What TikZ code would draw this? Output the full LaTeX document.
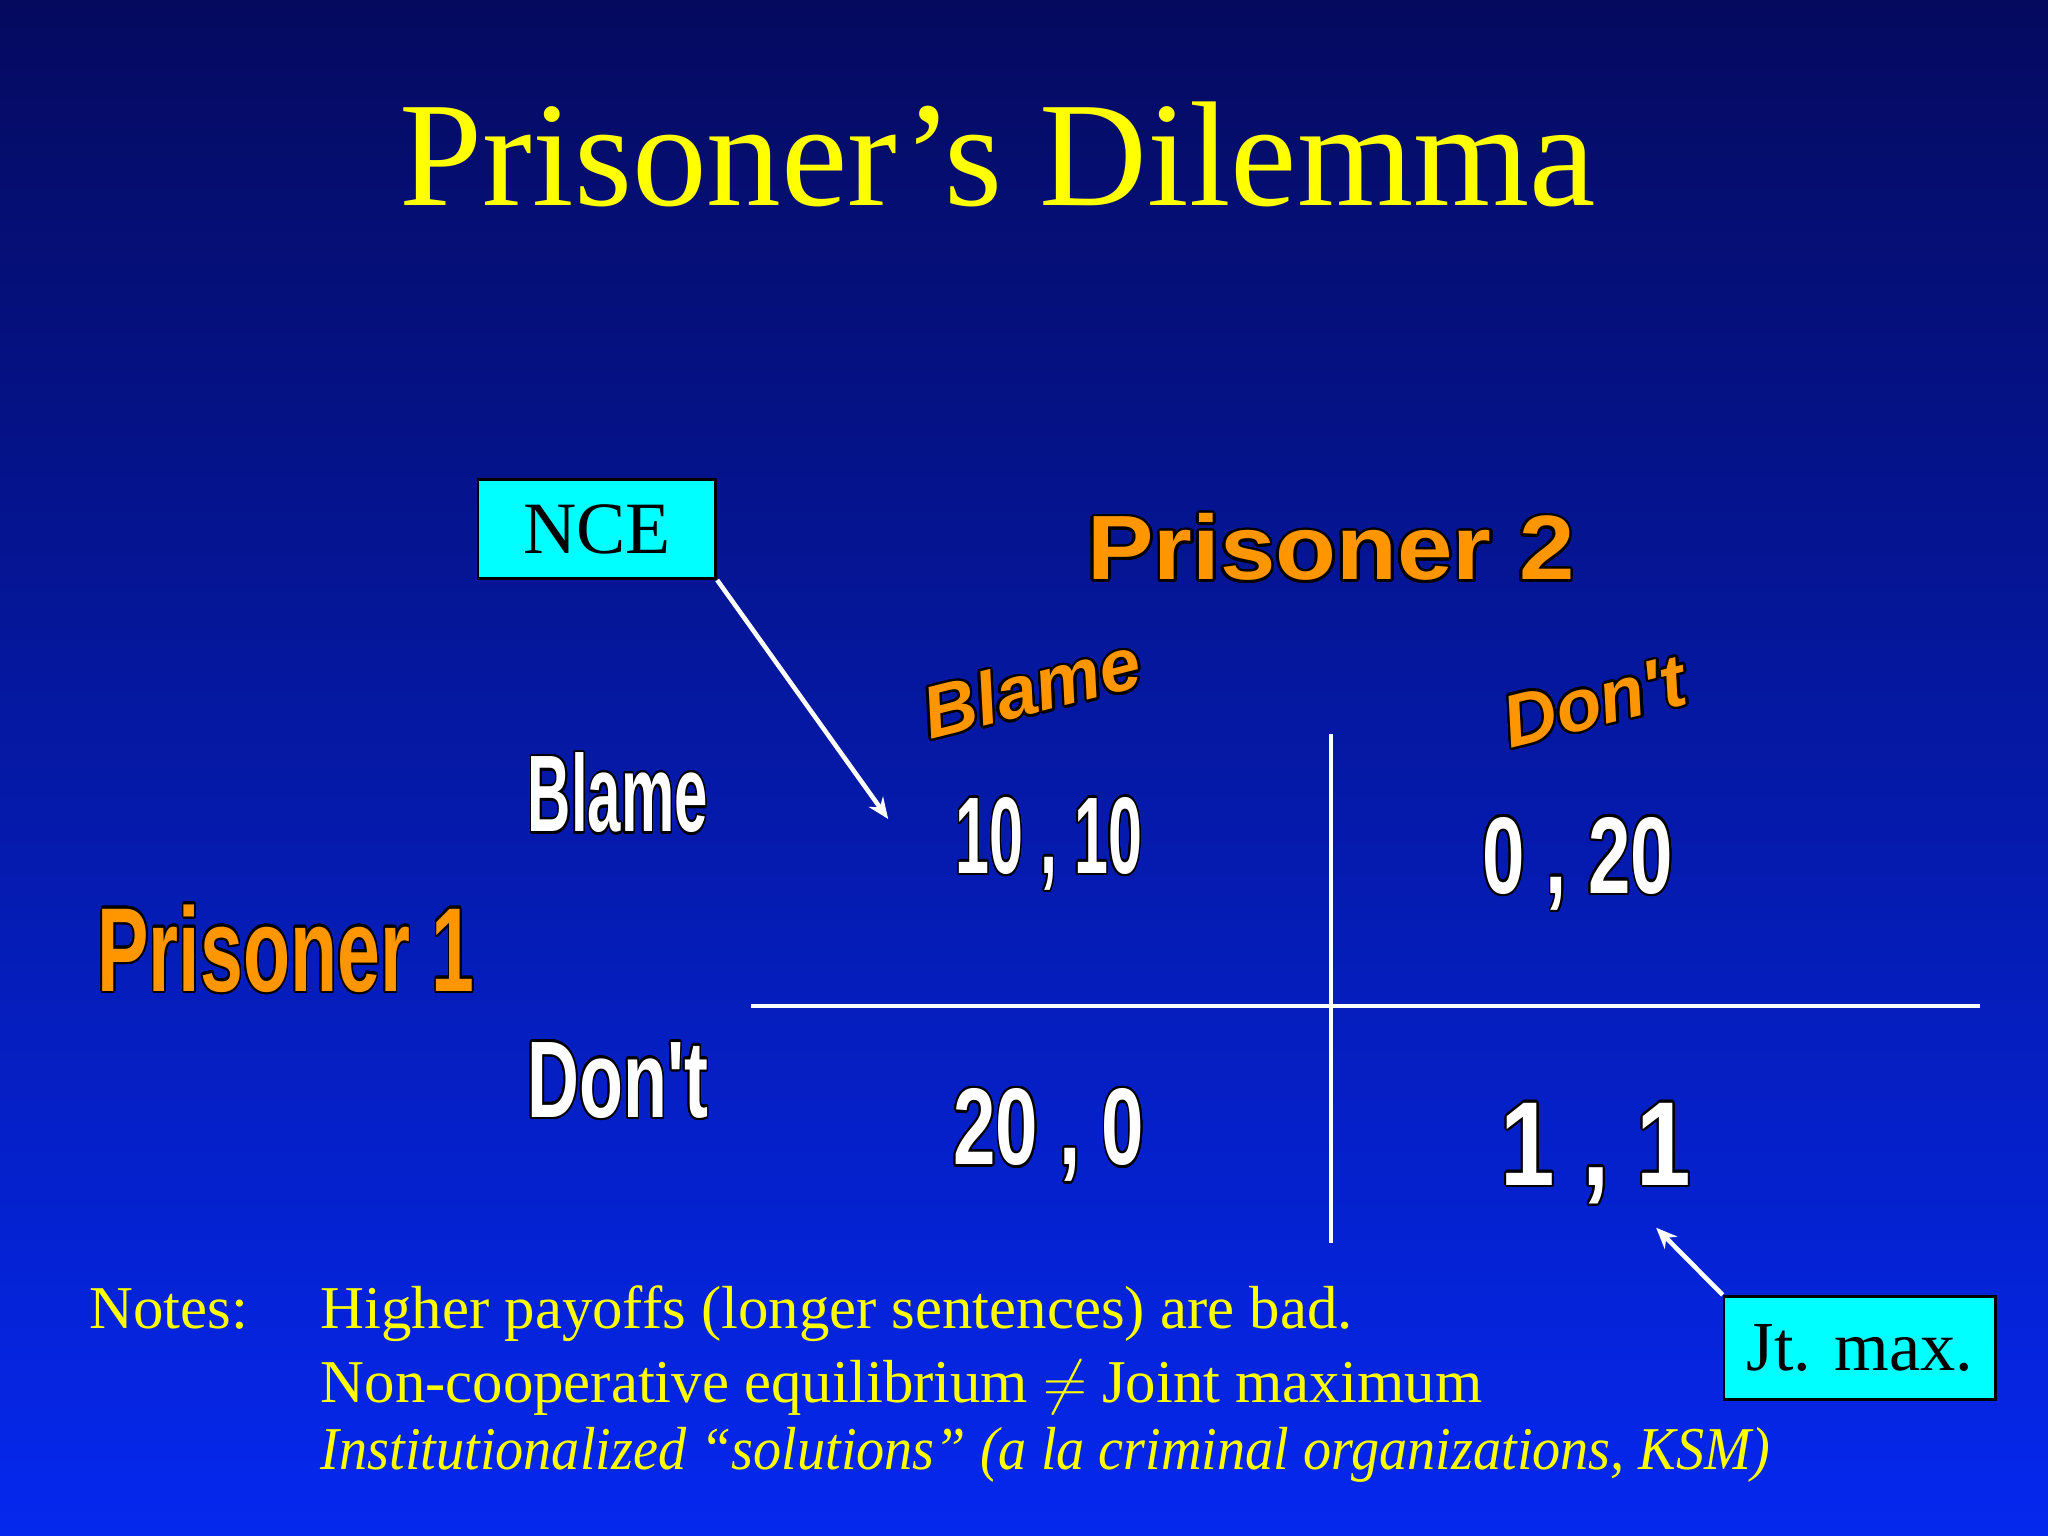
\documentclass[tikz,border=0pt]{standalone}
\usepackage{fontspec}
\usepackage{contour}
\setmainfont{Liberation Serif}
\newfontfamily\arialf{Liberation Sans}
\usetikzlibrary{arrows.meta}
\definecolor{ttl}{RGB}{255,255,0}
\definecolor{org}{RGB}{255,150,0}
\definecolor{cyanbox}{RGB}{0,255,255}
\contourlength{0.7pt}
\contournumber{24}
\newcommand{\fs}[1]{\fontsize{#1}{#1}\selectfont}
\tikzset{
 lab/.style={inner sep=0pt, anchor=center},
 wline/.style={draw=white, line width=1.1pt},
 box/.style={draw=black, fill=cyanbox, line width=0.8pt, inner sep=0pt, text=black},
 warr/.style={draw=white, line width=1.3pt, -{Stealth[length=6pt,width=5pt]}}
}
\begin{document}
\begin{tikzpicture}[x=0.013061cm,y=-0.013061cm]
\shade[top color={rgb,255:red,5;green,10;blue,95}, bottom color={rgb,255:red,5;green,40;blue,238}] (0,0) rectangle (1568,1176);
\useasboundingbox (0,0) rectangle (1568,1176);
\node[lab, text=ttl] (title) at (764,118) {\fs{42.5pt}Prisoner’s Dilemma};
\node[lab] (p2) at (1019,420) {\arialf\bfseries\fs{26pt}\scalebox{1.09}[1]{\contour{black}{\textcolor{org}{Prisoner 2}}}};
\node[lab] (p1) at (219,727) {\arialf\bfseries\fs{34pt}\scalebox{0.645}[1]{\contour{black}{\textcolor{org}{Prisoner 1}}}};
\node[lab, rotate=14] (cb) at (790,527) {\arialf\bfseries\itshape\fs{21pt}\contour{black}{\textcolor{org}{Blame}}};
\node[lab, rotate=14] (cd) at (1221,538) {\arialf\bfseries\itshape\fs{21pt}\contour{black}{\textcolor{org}{Don't}}};
\node[lab] (rb) at (473,608) {\arialf\bfseries\fs{31pt}\scalebox{0.55}[1]{\contour{black}{\textcolor{white}{Blame}}}};
\node[lab] (rd) at (473,828) {\arialf\bfseries\fs{31pt}\scalebox{0.66}[1]{\contour{black}{\textcolor{white}{Don't}}}};
\node[lab] (bb) at (803,647) {\arialf\bfseries\fs{31pt}\scalebox{0.56}[1]{\contour{black}{\textcolor{white}{10 , 10}}}};
\node[lab] (bd) at (1208,662) {\arialf\bfseries\fs{31pt}\scalebox{0.7}[1]{\contour{black}{\textcolor{white}{0 , 20}}}};
\node[lab] (db) at (803,870) {\arialf\bfseries\fs{31pt}\scalebox{0.7}[1]{\contour{black}{\textcolor{white}{20 , 0}}}};
\node[lab] (dd) at (1222,884) {\arialf\bfseries\fs{34pt}\scalebox{0.82}[1]{\contour{black}{\textcolor{white}{1 , 1}}}};
\coordinate (vt) at (1019,562); \coordinate (vb) at (1019,952);
\coordinate (hl) at (575,770); \coordinate (hr) at (1516,770);
\draw[wline] (vt) -- (vb);
\draw[wline] (hl) -- (hr);
\node[box, minimum width=2.377cm, minimum height=0.993cm] (nce) at (457,405) {\fs{21pt}NCE};
\coordinate (ncet) at (680,627);
\draw[warr] (nce.south east) -- (ncet);
\node[box, minimum width=2.717cm, minimum height=1.032cm] (jt) at (1424,1032) {\fs{20pt}Jt. max.};
\coordinate (jtt) at (1268,940);
\draw[warr] (jt.north west) -- (jtt);
\node[anchor=base west, text=ttl, inner sep=0pt] (notes) at (68,1017) {\fs{17.3pt}Notes:};
\node[anchor=base west, text=ttl, inner sep=0pt] (n1) at (245,1017) {\fs{17.3pt}Higher payoffs (longer sentences) are bad.};
\node[anchor=base west, text=ttl, inner sep=0pt] (n2) at (245,1074) {\fs{17.3pt}Non-cooperative equilibrium $\neq$ Joint maximum};
\node[anchor=base west, text=ttl, inner sep=0pt] (n3) at (245,1125) {\fs{17.3pt}\itshape\scalebox{0.925}[1]{Institutionalized “solutions” (a la criminal organizations, KSM)}};
\end{tikzpicture}
\end{document}
